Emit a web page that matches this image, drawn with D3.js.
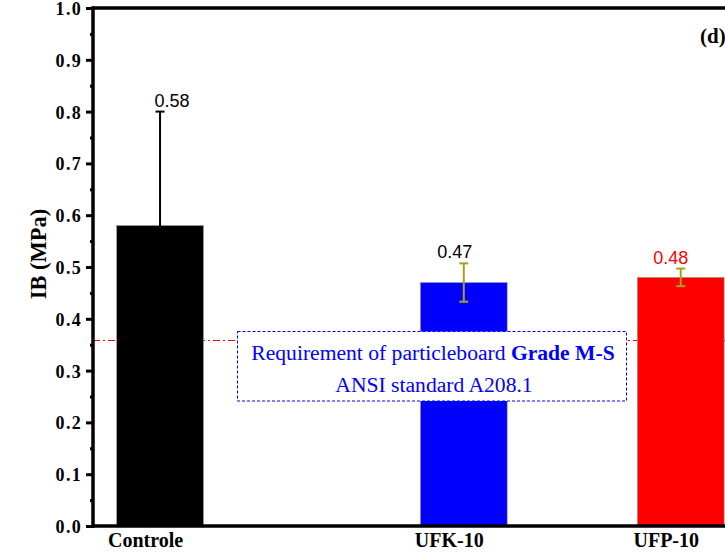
<!DOCTYPE html>
<html>
<head>
<meta charset="utf-8">
<script src="https://cdn.jsdelivr.net/npm/d3@7/dist/d3.min.js"></script>
<style>
  body { margin: 0; background: #fff; }
  svg { display: block; }
</style>
</head>
<body>
<svg id="chart" width="725" height="554"></svg>
<script>
const categories = ['Controle', 'UFK-10', 'UFP-10'];
const xSlot = [0, 1.4, 2.4];
const means = [0.58, 0.47, 0.48];
const errors = [0.22, 0.037, 0.017];
const barColors = ['#000000', '#0000ff', '#ff0000'];
const errColors = ['#000000', '#aaa020', '#aaa020'];
const labelColors = ['#000000', '#000000', '#ff0000'];
const yTicks = [0, 0.1, 0.2, 0.3, 0.4, 0.5, 0.6, 0.7, 0.8, 0.9, 1.0];
const yMinor = [0.05, 0.15, 0.25, 0.35, 0.45, 0.55, 0.65, 0.75, 0.85, 0.95];
const requirement = 0.36;

const svg = d3.select('#chart');
const serif = '"Liberation Serif", "Times New Roman", serif';
const sans = '"Liberation Sans", Arial, sans-serif';

const x = d3.scaleLinear().domain([-0.309, 2.604]).range([93, 725]);
const y = d3.scaleLinear().domain([0, 1]).range([526, 8]);
const barW = x(0.4) - x(0);

// requirement line (behind bars)
svg.append('line')
  .attr('x1', x.range()[0]).attr('x2', x.range()[1])
  .attr('y1', Math.round(y(requirement)) + 0.5).attr('y2', Math.round(y(requirement)) + 0.5)
  .attr('stroke', '#ff0000')
  .attr('stroke-width', 1.2)
  .attr('stroke-dasharray', '7,3,2,3');

const data = categories.map(function(c, i) {
  return { name: c, slot: xSlot[i], mean: means[i], err: errors[i], i: i };
});

// bars
svg.append('g')
  .selectAll('rect')
  .data(data)
  .enter()
  .append('rect')
  .attr('x', function(d) { return x(d.slot) - barW / 2; })
  .attr('y', function(d) { return y(d.mean); })
  .attr('width', barW)
  .attr('height', function(d) { return y(0) - y(d.mean); })
  .attr('fill', function(d) { return barColors[d.i]; })
  .attr('stroke', '#999')
  .attr('stroke-width', 0.6);

// error bars
const eb = svg.append('g')
  .selectAll('g')
  .data(data)
  .enter()
  .append('g')
  .attr('stroke', function(d) { return errColors[d.i]; })
  .attr('stroke-width', 2);

eb.append('line')
  .attr('x1', function(d) { return x(d.slot); })
  .attr('x2', function(d) { return x(d.slot); })
  .attr('y1', function(d) { return y(d.mean - d.err); })
  .attr('y2', function(d) { return y(d.mean + d.err); });

[1, -1].forEach(function(s) {
  eb.append('line')
    .attr('x1', function(d) { return x(d.slot) - 4.5; })
    .attr('x2', function(d) { return x(d.slot) + 4.5; })
    .attr('y1', function(d) { return y(d.mean + s * d.err); })
    .attr('y2', function(d) { return y(d.mean + s * d.err); });
});

// value labels
const labelDx = [12, -9, -10];
svg.append('g')
  .selectAll('text')
  .data(data)
  .enter()
  .append('text')
  .attr('x', function(d) { return x(d.slot) + labelDx[d.i]; })
  .attr('y', function(d) { return y(d.mean + d.err) - 5; })
  .attr('text-anchor', 'middle')
  .attr('font-family', sans)
  .attr('font-size', 18)
  .attr('fill', function(d) { return labelColors[d.i]; })
  .text(function(d) { return d.mean.toFixed(2); });

// requirement box
const box = svg.append('g');
box.append('rect')
  .attr('x', 237.5).attr('y', 331.5)
  .attr('width', 389).attr('height', 69.5)
  .attr('fill', '#fff')
  .attr('stroke', '#0000ff')
  .attr('stroke-width', 1)
  .attr('stroke-dasharray', '3,2');

const t1 = box.append('text')
  .attr('x', 433).attr('y', 360)
  .attr('text-anchor', 'middle')
  .attr('font-family', serif)
  .attr('font-size', 21.6)
  .attr('fill', '#0000ff');
t1.append('tspan').text('Requirement of particleboard ');
t1.append('tspan').attr('font-weight', 'bold').text('Grade M-S');

box.append('text')
  .attr('x', 434).attr('y', 391.5)
  .attr('text-anchor', 'middle')
  .attr('font-family', serif)
  .attr('font-size', 21.6)
  .attr('fill', '#0000ff')
  .text('ANSI standard A208.1');

// y axis
const yAxis = svg.append('g')
  .attr('transform', 'translate(' + x.range()[0] + ',0)')
  .call(d3.axisLeft(y).tickValues(yTicks).tickSize(7).tickPadding(4).tickFormat(d3.format('.1f')));
yAxis.select('.domain').remove();
yAxis.selectAll('.tick line').attr('stroke', '#000').attr('stroke-width', 3);
yAxis.selectAll('.tick text')
  .attr('font-family', serif)
  .attr('font-weight', 'bold')
  .attr('font-size', 18)
  .attr('letter-spacing', 1.3)
  .attr('dy', 6.5)
  .attr('fill', '#000');

svg.append('g')
  .attr('transform', 'translate(' + x.range()[0] + ',0)')
  .call(d3.axisLeft(y).tickValues(yMinor).tickSize(3).tickFormat(''))
  .call(function(g) { g.select('.domain').remove(); })
  .selectAll('.tick line').attr('stroke', '#000').attr('stroke-width', 3);

// frame lines: left, bottom, top
svg.append('line')
  .attr('x1', x.range()[0]).attr('x2', x.range()[0])
  .attr('y1', y(1) - 1.75).attr('y2', y(0) + 1.75)
  .attr('stroke', '#000').attr('stroke-width', 3.5);
[0, 1].forEach(function(v) {
  svg.append('line')
    .attr('x1', x.range()[0]).attr('x2', x.range()[1])
    .attr('y1', y(v)).attr('y2', y(v))
    .attr('stroke', '#000').attr('stroke-width', 3.5);
});

// x axis labels
const xAxis = svg.append('g')
  .attr('transform', 'translate(0,' + y(0) + ')')
  .call(d3.axisBottom(x).tickValues(xSlot).tickSize(0).tickPadding(7)
    .tickFormat(function(d, i) { return categories[i]; }));
xAxis.select('.domain').remove();
xAxis.selectAll('.tick text')
  .attr('dx', -15)
  .attr('font-family', serif)
  .attr('font-weight', 'bold')
  .attr('font-size', 20)
  .attr('fill', '#000');

// y title
svg.append('text')
  .attr('transform', 'translate(46,254) rotate(-90)')
  .attr('text-anchor', 'middle')
  .attr('font-family', serif)
  .attr('font-weight', 'bold')
  .attr('font-size', 22.5)
  .text('IB (MPa)');

// panel tag
svg.append('text')
  .attr('x', 700).attr('y', 43)
  .attr('font-family', serif)
  .attr('font-weight', 'bold')
  .attr('font-size', 21)
  .text('(d)');
</script>
</body>
</html>
